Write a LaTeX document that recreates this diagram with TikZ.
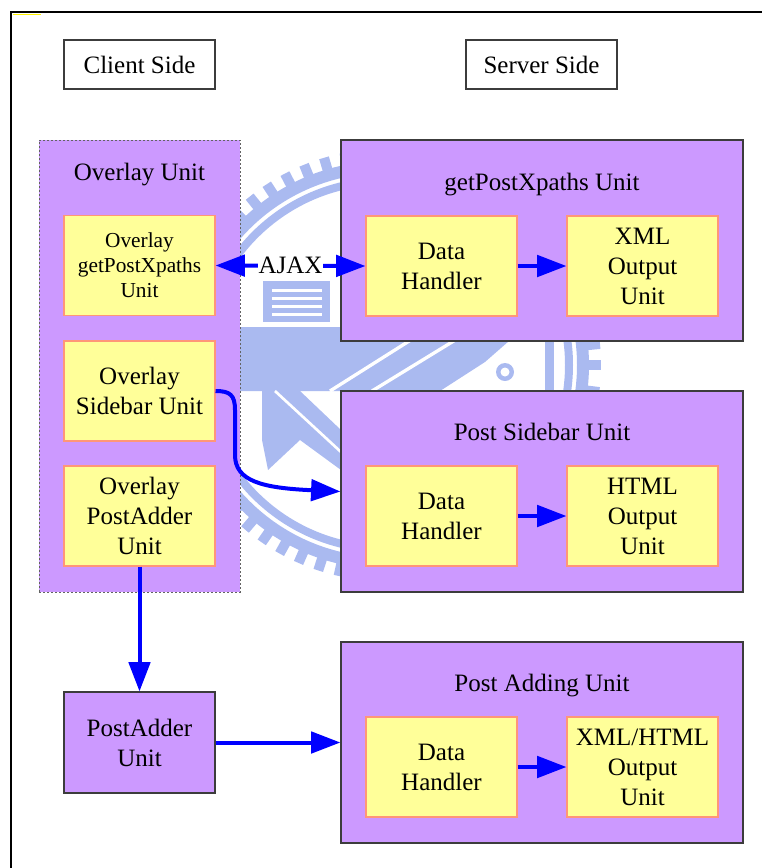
\documentclass[tikz,border=0pt]{standalone}
\usepackage{fontspec}
\setmainfont{Liberation Serif}
\usetikzlibrary{arrows.meta}

\definecolor{unitpurple}{RGB}{204,153,255}
\definecolor{unityellow}{RGB}{255,255,153}
\definecolor{edgesalmon}{RGB}{255,150,120}
\definecolor{edgegray}{RGB}{60,60,60}
\definecolor{flowblue}{RGB}{0,0,255}
\definecolor{markblue}{RGB}{170,186,240}

\tikzset{
  >={Triangle[length=22pt,width=16pt]},
  bigtext/.style={font=\fontsize{18.75}{22.5}\selectfont},
  smalltext/.style={font=\fontsize{16}{18.75}\selectfont},
  sidebox/.style={bigtext, draw=edgegray, line width=1pt, fill=white,
    minimum width=113.25pt, minimum height=36.75pt, inner sep=0pt},
  unitbox/.style={draw=edgegray, fill=unitpurple, line width=0.9pt, inner sep=0pt},
  serverunit/.style={unitbox, minimum width=301.5pt, minimum height=150.75pt},
  clientunit/.style={unitbox, bigtext, align=center,
    minimum width=113.25pt, minimum height=75.75pt},
  overlaybox/.style={unitbox, draw=edgegray!80, line width=0.7pt,
    dash pattern=on 1.8pt off 1.2pt, minimum width=150.75pt, minimum height=339pt},
  partbox/.style={draw=edgesalmon, fill=unityellow, line width=0.8pt, inner sep=0pt,
    align=center, minimum width=113.25pt, minimum height=75pt},
  part/.style={partbox, bigtext},
  smallpart/.style={partbox, smalltext},
  unittitle/.style={bigtext, anchor=base, inner sep=0pt},
  flow/.style={draw=flowblue, line width=3pt, ->},
}

\begin{document}
\begin{tikzpicture}[x=0.75pt,y=-0.75pt]
\useasboundingbox (0,0) rectangle (761,868);

% faint emblem in the background
\begin{scope}[markblue]
  \fill[even odd rule] (385,365) circle (204) (385,365) circle (192);
  \fill[even odd rule] (385,365) circle (188) (385,365) circle (180);
  \foreach \a in {0,5.6,...,355} {
    \fill[rotate around={\a:(385,365)}] (588,360) rectangle (601,370);
  }
  % striped block
  \fill (263,281) rectangle (330,322);
  \foreach \s in {289,297,305,313}
    \fill[white] (272,\s) rectangle (322,\s+2.5);
  % deck band with diagonal struts
  \fill (240,327) -- (525,327) -- (485,362) -- (440,391) -- (240,391) -- cycle;
  \draw[white, line width=2.5pt] (425,331) -- (330,391);
  \draw[white, line width=2.5pt] (470,331) -- (372,391);
  \fill (262,391) -- (300,391) -- (341,430) -- (341,470) -- (300,440) -- (268,470) -- (262,440) -- cycle;
  \draw[white, line width=2pt] (275,391) -- (341,452);
  \fill (505,372) circle (9);
  \fill[white] (505,372) circle (4.5);
  \fill (545,341) rectangle (554,391);
\end{scope}

% page frame
\draw[line width=1.5pt] (11,872) -- (11,12) -- (765,12);
\draw[yellow, line width=1pt] (13,14.5) -- (41,14.5);

% headings
\node[sidebox] (client) at (139.5,64.5) {Client Side};
\node[sidebox] (server) at (541.5,64.5) {Server Side};

% client side
\node[overlaybox] (overlay) at (139.5,366) {};
\node[unittitle] (overlaytitle) at (139.5,180) {Overlay Unit};
\node[smallpart] (ogp) at (139.5,265.5) {Overlay\\getPostXpaths\\Unit};
\node[part] (osb) at (139.5,391) {Overlay\\Sidebar Unit};
\node[part] (opa) at (139.5,516) {Overlay\\PostAdder\\Unit};
\node[clientunit] (postadder) at (139.5,742.5) {PostAdder\\Unit};

% server side
\node[serverunit] (gpx) at (542,240.5) {};
\node[unittitle] (gpxtitle) at (542,190) {getPostXpaths Unit};
\node[part] (dh1) at (441.5,266) {Data\\Handler};
\node[part] (xml) at (642.5,266) {XML\\Output\\Unit};

\node[serverunit] (psb) at (542,491.5) {};
\node[unittitle] (psbtitle) at (542,440.5) {Post Sidebar Unit};
\node[part] (dh2) at (441.5,516) {Data\\Handler};
\node[part] (html) at (642.5,516) {HTML\\Output\\Unit};

\node[serverunit] (pau) at (542,742.5) {};
\node[unittitle] (pautitle) at (542,691) {Post Adding Unit};
\node[part] (dh3) at (441.5,767) {Data\\Handler};
\node[part] (xmlhtml) at (642.5,767) {XML/HTML\\Output\\Unit};

% connectors
\draw[flow, <->] (ogp.east) -- node[bigtext, fill=white, inner sep=0.5pt] (ajax) {AJAX} (dh1.west);
\draw[flow] (dh1.east) -- (xml.west);
\draw[flow] (osb.east) .. controls (230,391) and (235,395) .. (235,410)
  -- (235,455) .. controls (235,481) and (262,488) .. (psb.west);
\draw[flow] (dh2.east) -- (html.west);
\draw[flow] (opa.south) -- (postadder.north);
\draw[flow] (postadder.east) -- (pau.west);
\draw[flow] (dh3.east) -- (xmlhtml.west);
\end{tikzpicture}
\end{document}
